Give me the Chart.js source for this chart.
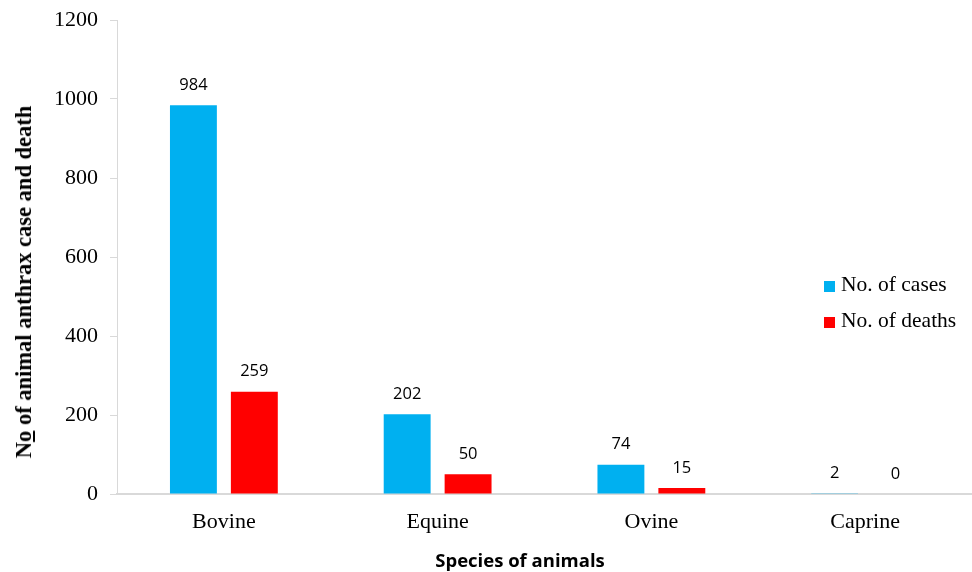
<!DOCTYPE html>
<html lang="en">
<head>
  <meta charset="UTF-8" />
  <title>Animal anthrax cases and deaths</title>
  <script src="https://cdn.jsdelivr.net/npm/chart.js"></script>
  <style>
    body { margin: 0; background: #fff; }
    #wrap { position: relative; width: 972px; height: 572px; }
    #yTitle {
      position: absolute; left: 24px; top: 282px;
      transform: translate(-50%, -50%) rotate(-90deg);
      font: bold 22.5px "Liberation Serif", serif; white-space: nowrap; color: #000;
    }
    #xTitle {
      position: absolute; left: 520px; top: 559px; transform: translate(-50%, -50%);
      font: bold 18.5px "Open Sans", sans-serif; white-space: nowrap; color: #000;
    }
    #legend { position: absolute; left: 824px; top: 272px; font: 21.5px "Liberation Serif", serif; color: #000; }
    #legend div { height: 36px; display: flex; align-items: flex-start; }
    #legend span.box { display: inline-block; width: 11px; height: 11px; margin: 9px 6px 0 0; }
  </style>
</head>
<body>
  <div id="wrap">
    <canvas id="chart" width="972" height="572"></canvas>
    <div id="yTitle">N<u>o</u> of animal anthrax case and death</div>
    <div id="xTitle">Species of animals</div>
    <div id="legend"></div>
  </div>
  <script>
    const species = ["Bovine", "Equine", "Ovine", "Caprine"];
    const cases = [984, 202, 74, 2];
    const deaths = [259, 50, 15, 0];
    const seriesNames = ["No. of cases", "No. of deaths"];
    const colors = ["#00B0F0", "#FF0000"];

    const legend = document.getElementById("legend");
    seriesNames.forEach((name, i) => {
      legend.innerHTML += `<div><span class="box" style="background:${colors[i]}"></span>${name}</div>`;
    });

    // values above each bar
    const valueLabels = {
      id: "valueLabels",
      afterDatasetsDraw(chart) {
        const c = chart.ctx;
        c.save();
        c.font = '16.5px "Open Sans", sans-serif';
        c.fillStyle = "#000";
        c.textAlign = "center";
        c.textBaseline = "middle";
        chart.data.datasets.forEach((ds, i) => {
          chart.getDatasetMeta(i).data.forEach((bar, j) => {
            c.fillText(ds.data[j], bar.x, bar.y - 20);
          });
        });
        c.restore();
      }
    };

    new Chart(document.getElementById("chart"), {
      type: "bar",
      data: {
        labels: species,
        datasets: [
          { label: seriesNames[0], data: cases, backgroundColor: colors[0] },
          { label: seriesNames[1], data: deaths, backgroundColor: colors[1] }
        ]
      },
      options: {
        responsive: false,
        animation: false,
        layout: { padding: { top: 20, right: 0, left: 0, bottom: 0 } },
        categoryPercentage: 0.57,
        barPercentage: 0.77,
        plugins: { legend: { display: false }, tooltip: { enabled: false } },
        scales: {
          x: {
            afterFit: s => { s.height = 78; },
            grid: { display: true, drawOnChartArea: false, drawTicks: false, color: "#d9d9d9" },
            border: { color: "#d9d9d9", width: 2 },
            ticks: { padding: 15, color: "#000", font: { family: "Liberation Serif", size: 22 } }
          },
          y: {
            min: 0, max: 1200,
            afterFit: s => { s.width = 117; s.paddingTop = 0; },
            grid: { drawOnChartArea: false, tickLength: 7, color: "#d9d9d9" },
            border: { color: "#d9d9d9", width: 1 },
            ticks: {
              stepSize: 200, padding: 12, color: "#000",
              font: { family: "Liberation Serif", size: 22, lineHeight: 1 },
              callback: v => String(v)
            }
          }
        }
      },
      plugins: [valueLabels]
    });
  </script>
</body>
</html>
